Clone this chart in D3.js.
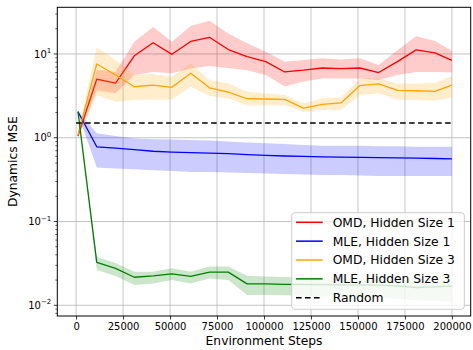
<!DOCTYPE html>
<html>
<head>
<meta charset="utf-8">
<script src="https://cdn.jsdelivr.net/npm/d3@7/dist/d3.min.js"></script>
<style>
  body { margin: 0; background: #fff; }
  svg { display: block; font-family: "DejaVu Sans", sans-serif; }
</style>
</head>
<body>
<svg id="chart" width="473" height="350"></svg>
<script>
// ---------- data ----------
const steps = [1000, 11000, 21000, 31000, 41000, 51000, 61000, 71000, 81000, 91000, 101000,
               111000, 121000, 131000, 141000, 151000, 161000, 171000, 181000, 191000, 200000];

const omd1Mean  = [1.05, 5.0, 4.5, 9.5, 13.6, 9.9, 14.1, 15.8, 11.3, 9.3, 8.1, 6.1, 6.4, 6.8, 6.7, 6.8, 6.0, 8.1, 11.2, 10.3, 8.4];
const omd1Upper = [1.1, 6.5, 6.1, 14.0, 21.0, 14.0, 21.5, 25.0, 17.5, 13.4, 10.6, 8.1, 8.5, 8.9, 8.6, 8.9, 7.4, 11.1, 16.3, 14.3, 10.9];
const omd1Lower = [1.0, 3.7, 3.4, 5.6, 6.1, 5.9, 6.7, 7.2, 6.8, 6.4, 5.6, 4.1, 4.7, 5.1, 5.1, 5.1, 4.9, 5.6, 6.1, 6.1, 6.0];

const mle1Mean  = [2.04, 0.78, 0.75, 0.72, 0.69, 0.675, 0.665, 0.655, 0.645, 0.63, 0.615, 0.605, 0.598, 0.592, 0.588, 0.584, 0.58, 0.575, 0.57, 0.565, 0.56];
const mle1Upper = [2.1, 1.13, 1.05, 0.98, 0.96, 0.95, 0.94, 0.93, 0.9, 0.88, 0.86, 0.84, 0.82, 0.8, 0.8, 0.8, 0.79, 0.79, 0.78, 0.78, 0.78];
const mle1Lower = [1.95, 0.44, 0.43, 0.42, 0.41, 0.40, 0.39, 0.39, 0.385, 0.38, 0.375, 0.37, 0.365, 0.36, 0.36, 0.355, 0.35, 0.35, 0.35, 0.35, 0.35];

const omd3Mean  = [1.08, 7.6, 5.6, 4.06, 4.25, 4.0, 5.9, 3.95, 3.5, 2.92, 2.9, 2.87, 2.26, 2.5, 2.6, 4.2, 4.4, 3.68, 3.64, 3.58, 4.25];
const omd3Upper = [1.15, 12.0, 8.5, 5.6, 5.75, 5.35, 7.7, 4.9, 4.45, 3.54, 3.39, 3.23, 2.57, 2.95, 3.03, 5.1, 5.1, 4.45, 4.45, 4.54, 5.45];
const omd3Lower = [1.0, 3.23, 2.69, 2.82, 2.87, 2.87, 4.06, 3.17, 2.95, 2.45, 2.45, 2.45, 2.04, 2.14, 2.14, 3.23, 3.39, 2.87, 2.82, 2.76, 3.03];

const mle3Mean  = [2.05, 0.0325, 0.0276, 0.0216, 0.0224, 0.0237, 0.0222, 0.0249, 0.0249, 0.0180, 0.0180, 0.0178, 0.0177, 0.0176, 0.0175, 0.0175, 0.0174, 0.0170, 0.0163, 0.0166, 0.0170];
const mle3Upper = [2.1, 0.038, 0.032, 0.0251, 0.0251, 0.0276, 0.0251, 0.029, 0.029, 0.0225, 0.022, 0.0218, 0.0215, 0.0212, 0.021, 0.021, 0.0208, 0.0205, 0.0195, 0.0192, 0.0186];
const mle3Lower = [2.0, 0.0263, 0.0224, 0.0175, 0.0182, 0.020, 0.0182, 0.0209, 0.020, 0.0133, 0.0133, 0.0132, 0.013, 0.0128, 0.0126, 0.0125, 0.0122, 0.012, 0.0115, 0.0113, 0.011];

const randomSteps = [0, 200000];
const randomValue = [1.5, 1.5];

const seriesNames = ["OMD, Hidden Size 1", "MLE, Hidden Size 1", "OMD, Hidden Size 3", "MLE, Hidden Size 3"];
const randomName = "Random";
const xTicks = [0, 25000, 50000, 75000, 100000, 125000, 150000, 175000, 200000];
const yMajorExps = [-2, -1, 0, 1];
const xLabel = "Environment Steps";
const yLabel = "Dynamics MSE";

// ---------- layout ----------
const svg = d3.select("#chart");
const L = 57.3, R = 470.7, T = 7.3, B = 316;
const x = d3.scaleLinear().domain([-10000, 210000]).range([L, R]);
const y = d3.scaleLog().domain([0.00745, 36.06]).range([B, T]);

const colors = ["#ff0000", "#0000ff", "#ffa500", "#008000"];
const series = [
  { mean: omd1Mean, up: omd1Upper, lo: omd1Lower },
  { mean: mle1Mean, up: mle1Upper, lo: mle1Lower },
  { mean: omd3Mean, up: omd3Upper, lo: omd3Lower },
  { mean: mle3Mean, up: mle3Upper, lo: mle3Lower },
];

// clip
svg.append("defs").append("clipPath").attr("id", "clip")
  .append("rect").attr("x", L).attr("y", T).attr("width", R - L).attr("height", B - T);

// grid
const grid = svg.append("g");
grid.selectAll("line.vx").data(xTicks).join("line")
  .attr("x1", d => x(d)).attr("x2", d => x(d)).attr("y1", T).attr("y2", B)
  .attr("stroke", "#b0b0b0").attr("stroke-opacity", 0.55).attr("stroke-width", 1.3);
grid.selectAll("line.hy").data(yMajorExps).join("line")
  .attr("x1", L).attr("x2", R).attr("y1", d => y(Math.pow(10, d))).attr("y2", d => y(Math.pow(10, d)))
  .attr("stroke", "#b0b0b0").attr("stroke-opacity", 0.75).attr("stroke-width", 1.0);

// series
const plot = svg.append("g").attr("clip-path", "url(#clip)");
const area = d3.area().x((d, i) => x(steps[i]));
const line = d3.line().x((d, i) => x(steps[i])).y(d => y(d));
series.forEach((s, k) => {
  plot.append("path")
    .datum(s.mean)
    .attr("d", d3.area().x((d, i) => x(steps[i])).y0((d, i) => y(s.lo[i])).y1((d, i) => y(s.up[i])))
    .attr("fill", colors[k]).attr("fill-opacity", 0.2);
  plot.append("path")
    .datum(s.mean)
    .attr("d", line)
    .attr("fill", "none").attr("stroke", colors[k]).attr("stroke-width", 1.3)
    .attr("stroke-linejoin", "round");
});
plot.append("path")
  .datum(randomValue)
  .attr("d", d3.line().x((d, i) => x(randomSteps[i])).y(d => y(d)))
  .attr("fill", "none").attr("stroke", "#000").attr("stroke-width", 1.5)
  .attr("stroke-dasharray", "5.6,3.4");

// axes frame
svg.append("rect").attr("x", L).attr("y", T).attr("width", R - L).attr("height", B - T)
  .attr("fill", "none").attr("stroke", "#000").attr("stroke-width", 1);

// x axis
const xAxis = d3.axisBottom(x).tickValues(xTicks).tickFormat(d3.format("d")).tickSizeOuter(0).tickSize(3.5).tickPadding(3.5);
const gx = svg.append("g").attr("transform", `translate(0,${B})`).call(xAxis);
gx.select(".domain").remove();
gx.selectAll("text").attr("font-size", 10).attr("fill", "#000").attr("font-family", "DejaVu Sans");
gx.selectAll("line").attr("stroke", "#000").attr("stroke-width", 0.8);

// y axis ticks
const gy = svg.append("g");
const minor = [];
for (let e = -3; e <= 1; e++) for (let m = 2; m <= 9; m++) {
  const v = m * Math.pow(10, e);
  if (v >= y.domain()[0] && v <= y.domain()[1]) minor.push(v);
}
gy.selectAll("line.minor").data(minor).join("line")
  .attr("x1", L - 2).attr("x2", L).attr("y1", d => y(d)).attr("y2", d => y(d))
  .attr("stroke", "#000").attr("stroke-width", 0.6);
gy.selectAll("line.major").data(yMajorExps).join("line")
  .attr("x1", L - 3.5).attr("x2", L).attr("y1", d => y(Math.pow(10, d))).attr("y2", d => y(Math.pow(10, d)))
  .attr("stroke", "#000").attr("stroke-width", 0.8);
const yt = gy.selectAll("text.ytick").data(yMajorExps).join("text")
  .attr("x", L - 6).attr("y", d => y(Math.pow(10, d)) + 3.6)
  .attr("text-anchor", "end").attr("font-size", 10).attr("fill", "#000");
yt.append("tspan").text("10");
yt.append("tspan").attr("font-size", 7).attr("dy", -4.5).text(d => (d < 0 ? "\u2212" : "") + Math.abs(d));

// axis labels
svg.append("text").attr("x", (L + R) / 2).attr("y", 345).attr("text-anchor", "middle")
  .attr("font-size", 12.3).attr("fill", "#000").text(xLabel);
svg.append("text").attr("transform", `translate(17,${(T + B) / 2}) rotate(-90)`).attr("text-anchor", "middle")
  .attr("font-size", 12.3).attr("fill", "#000").text(yLabel);

// legend
const lg = svg.append("g");
const lx = 291.7, ly = 212.7, lw = 172.6, lh = 96.6;
lg.append("rect").attr("x", lx).attr("y", ly).attr("width", lw).attr("height", lh)
  .attr("rx", 3).attr("fill", "#fff").attr("fill-opacity", 0.8).attr("stroke", "#cccccc").attr("stroke-width", 1);
const entries = seriesNames.map((n, i) => ({ name: n, color: colors[i], dash: null }))
  .concat([{ name: randomName, color: "#000", dash: "5.6,3.4" }]);
entries.forEach((e, i) => {
  const yy = 222.3 + i * 18.85;
  lg.append("line").attr("x1", 296).attr("x2", 322.7).attr("y1", yy).attr("y2", yy)
    .attr("stroke", e.color).attr("stroke-width", 1.5).attr("stroke-dasharray", e.dash);
  lg.append("text").attr("x", 332.7).attr("y", yy + 4.4).attr("font-size", 12.3).attr("fill", "#000").text(e.name);
});
</script>
</body>
</html>
